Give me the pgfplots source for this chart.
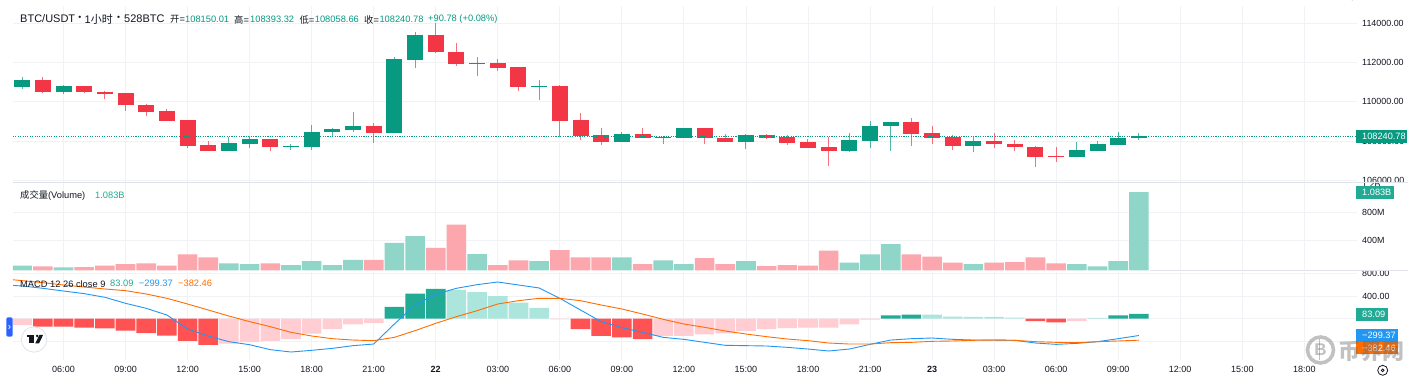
\documentclass[border=0pt]{standalone}
\usepackage{pgfplots}
\usepackage{pgfplotstable}
\usepackage{fontspec}
\pgfplotsset{compat=1.18}
\setmainfont{Liberation Sans}
\newfontfamily\cjk{Noto Sans CJK SC}
\definecolor{upc}{HTML}{089981}
\definecolor{dnc}{HTML}{F23645}
\definecolor{gridc}{HTML}{F0F2F6}
\definecolor{sepc}{HTML}{E0E3EB}
\definecolor{txtc}{HTML}{131722}
\definecolor{volg}{HTML}{8FD5C8}
\definecolor{volr}{HTML}{FCA6AD}
\definecolor{hdr}{HTML}{FF5252}
\definecolor{hlr}{HTML}{FFCDD2}
\definecolor{hdg}{HTML}{22AB94}
\definecolor{hlg}{HTML}{ACE5DC}
\definecolor{macdc}{HTML}{2196F3}
\definecolor{sigc}{HTML}{FF6D00}
\definecolor{tabc}{HTML}{2962FF}
% h = hours after 06:00 on the 21st
\pgfplotstableread{
h top bot hi lo
-2 111093 110753 111263 110668
0 110787 110515 110855 110413
8 107880 107506 108220 107489
9 108084 107863 108254 107642
11 107744 107693 107863 107523
12 108475 107710 108815 107557
13 108594 108441 108645 108186
14 108781 108560 109478 108475
16 112164 108407 112283 108407
17 113422 112147 113541 111705
20 111977 111943 112283 111314
23 110821 110770 111110 110090
27 108339 107948 108458 107948
29 108220 108169 108237 107846
30 108645 108169 108645 108169
33 108322 107948 108339 107608
38 108050 107506 108390 107438
39 108781 108016 109002 107642
40 108951 108747 108985 107489
44 108016 107761 108220 107438
49 107540 107183 107948 107183
50 107829 107506 107999 107489
51 108135 107812 108475 107812
52 108240 108150 108393 108058
}\upcandles
\pgfplotstableread{
h top bot hi lo
-1 111093 110515 111246 110464
1 110787 110481 110821 110464
2 110515 110413 110532 110158
3 110430 109835 110464 109546
4 109852 109495 109903 109274
5 109512 109036 109631 109019
6 109053 107761 109070 107642
7 107778 107506 107999 107489
10 108084 107693 108084 107489
15 108781 108407 108900 107897
18 113422 112521 114034 112470
19 112521 111943 112980 111824
21 111977 111739 112198 111552
22 111773 110753 111773 110566
24 110821 109036 110838 108220
25 109053 108254 109410 108050
26 108288 107948 108645 107812
28 108339 108169 108662 108152
31 108645 108135 108645 107846
32 108169 107948 108339 107948
34 108322 108169 108356 108101
35 108203 107897 108288 107795
36 107948 107642 108101 107642
37 107676 107506 108220 106724
41 108951 108356 109172 107744
42 108390 108169 108781 107846
43 108203 107761 108322 107540
45 108016 107829 108390 107659
46 107863 107676 108050 107489
47 107710 107183 107744 106673
48 107234 107200 107693 106911
}\dncandles
\def\T#1#2#3{\node[anchor=west,inner sep=0pt,text=txtc] at (#1pt,-#2pt) {#3};}
\def\Tag#1#2#3#4#5{\fill[#5] (1356pt,-#1pt) rectangle (#2pt,-#3pt);
  \node[anchor=west,inner sep=0pt,text=white,font=\fontsize{9.2}{10}\selectfont] at (1362pt,{-(#1+#3)/2*1pt}) {#4};}
\pgfplotsset{
  pane/.style={
    scale only axis, width=1343.6pt,
    xmin=-2.442, xmax=62.53,
    xtick={0,3,...,60},
    axis line style={draw=none},
    major tick length=0pt,
    grid=major,
    grid style={color=gridc,line width=0.9pt},
    yticklabel pos=right,
    yticklabel style={anchor=west,inner sep=0pt,text=txtc,font=\fontsize{8.9}{10}\selectfont,xshift=5.4pt},
    clip=true,
  },
}
\begin{document}
\begin{tikzpicture}
\path[use as bounding box] (0pt,0pt) rectangle (1417pt,-379pt);
\fill[white] (0pt,0pt) rectangle (1417pt,-379pt);
% --- price pane
\begin{axis}[pane, at={(13pt,-182.5pt)}, anchor=south west, height=176.5pt,
  ymin=105882, ymax=114884,
  xticklabels={},
  ytick={106000,108000,110000,112000,114000},
  yticklabels={,108000.00,110000.00,112000.00,114000.00}]
\addplot[draw=none,mark=none,forget plot,error bars/.cd,y dir=minus,y explicit,error mark=none,
  error bar style={color=upc,opacity=.7,line width=1pt}]
  table[x=h,y=hi,y error minus expr=\thisrow{hi}-\thisrow{lo}] {\upcandles};
\addplot[draw=none,mark=none,forget plot,error bars/.cd,y dir=minus,y explicit,error mark=none,
  error bar style={color=dnc,opacity=.7,line width=1pt}]
  table[x=h,y=hi,y error minus expr=\thisrow{hi}-\thisrow{lo}] {\dncandles};
\addplot[draw=none,mark=none,forget plot,error bars/.cd,y dir=minus,y explicit,error mark=none,
  error bar style={color=upc,line width=16pt}]
  table[x=h,y=top,y error minus expr=\thisrow{top}-\thisrow{bot}] {\upcandles};
\addplot[draw=none,mark=none,forget plot,error bars/.cd,y dir=minus,y explicit,error mark=none,
  error bar style={color=dnc,line width=16pt}]
  table[x=h,y=top,y error minus expr=\thisrow{top}-\thisrow{bot}] {\dncandles};
\addplot[color=upc,line width=.9pt,dash pattern=on 1.1pt off 1.3pt,forget plot] coordinates {(-2.442,108240.78)(62.53,108240.78)};
\end{axis}
% --- volume pane
\begin{axis}[pane, at={(13pt,-270.4pt)}, anchor=south west, height=86.9pt,
  ymin=0, ymax=1201,
  xticklabels={},
  ytick={415,802},
  yticklabels={400M,800M},
  ybar, bar width=19.6pt, bar shift=0pt]
\addplot[draw=none,fill=volg] coordinates {(-2,65)(0,41)(8,97)(9,88)(11,74)(12,129)(13,74)(14,147)(16,382)(17,475)(20,226)(23,129)(27,180)(29,138)(30,88)(33,129)(38,106)(39,221)(40,364)(44,88)(49,88)(50,55)(51,129)(52,1083)};
\addplot[draw=none,fill=volr] coordinates {(-1,55)(1,46)(2,65)(3,88)(4,97)(5,65)(6,221)(7,180)(10,97)(15,147)(18,313)(19,631)(21,74)(22,138)(24,281)(25,180)(26,180)(28,88)(31,170)(32,88)(34,60)(35,74)(36,65)(37,272)(41,221)(42,189)(43,106)(45,106)(46,115)(47,180)(48,97)};
\end{axis}
% --- MACD pane
\begin{axis}[pane, at={(13pt,-360pt)}, anchor=south west, height=88pt,
  ymin=-735, ymax=830,
  xticklabels={06:00,09:00,12:00,15:00,18:00,21:00,\textbf{22},03:00,06:00,09:00,12:00,15:00,18:00,21:00,\textbf{23},03:00,06:00,09:00,12:00,15:00,18:00},
  xticklabel style={text=txtc,font=\fontsize{9}{10}\selectfont,inner sep=0pt,yshift=-6.5pt},
  ytick={-400,0,400,800},
  yticklabels={,,400.00,},
  ]
\addplot[ybar,bar width=19.6pt,bar shift=0pt,draw=none,fill=hdr] coordinates {(-1,-142)(0,-142)(1,-160)(2,-172)(3,-213)(4,-255)(5,-302)(6,-397)(7,-468)(25,-184)(26,-308)(27,-332)(28,-362)(47,-42)(48,-65)};
\addplot[ybar,bar width=19.6pt,bar shift=0pt,draw=none,fill=hlr] coordinates {(-2,-113)(8,-445)(9,-415)(10,-397)(11,-362)(12,-267)(13,-184)(14,-101)(15,-77)(24,-12)(29,-308)(30,-308)(31,-279)(32,-261)(33,-219)(34,-184)(35,-166)(36,-160)(37,-160)(38,-101)(39,-18)(49,-42)};
\addplot[ybar,bar width=19.6pt,bar shift=0pt,draw=none,fill=hdg] coordinates {(16,208)(17,445)(18,528)(40,59)(41,71)(51,59)(52,83.09)};
\addplot[ybar,bar width=19.6pt,bar shift=0pt,draw=none,fill=hlg] coordinates {(19,510)(20,474)(21,403)(22,285)(23,190)(42,71)(43,36)(44,30)(45,30)(46,18)(50,12)};
\addplot[macdc,line width=.9pt,mark=none] coordinates {(-3,605)(-2,581)(-1,540)(0,492)(1,445)(2,380)(3,273)(4,184)(5,65)(6,-184)(7,-308)(8,-409)(9,-463)(10,-551)(11,-593)(12,-563)(13,-528)(14,-480)(15,-451)(16,-95)(17,243)(18,433)(19,540)(20,605)(21,652)(22,599)(23,546)(24,362)(25,154)(26,-53)(27,-160)(28,-243)(29,-332)(30,-368)(31,-421)(32,-474)(33,-480)(34,-486)(35,-510)(36,-540)(37,-575)(38,-540)(39,-457)(40,-380)(41,-356)(42,-344)(43,-368)(44,-380)(45,-380)(46,-385)(47,-433)(48,-457)(49,-439)(50,-409)(51,-356)(52,-299.37)};
\addplot[sigc,line width=.9pt,mark=none] coordinates {(-3,712)(-2,676)(-1,640)(0,599)(1,563)(2,528)(3,498)(4,439)(5,362)(6,261)(7,154)(8,47)(9,-53)(10,-142)(11,-243)(12,-308)(13,-356)(14,-380)(15,-391)(16,-332)(17,-213)(18,-83)(19,36)(20,142)(21,261)(22,320)(23,362)(24,362)(25,320)(26,243)(27,172)(28,83)(29,-12)(30,-95)(31,-154)(32,-219)(33,-273)(34,-320)(35,-362)(36,-391)(37,-433)(38,-451)(39,-451)(40,-427)(41,-421)(42,-403)(43,-397)(44,-385)(45,-380)(46,-385)(47,-409)(48,-421)(49,-427)(50,-409)(51,-397)(52,-382.46)};
\end{axis}
% clipped scale labels
\begin{scope}
\clip (1357pt,-170pt) rectangle (1417pt,-182pt);
\node[anchor=west,inner sep=0pt,text=txtc,font=\fontsize{8.9}{10}\selectfont] at (1362pt,-180pt) {106000.00};
\end{scope}
\begin{scope}
\clip (1357pt,-183pt) rectangle (1417pt,-190pt);
\node[anchor=west,inner sep=0pt,text=txtc,font=\fontsize{8.9}{10}\selectfont] at (1362pt,-184pt) {1.2B};
\end{scope}
\begin{scope}
\clip (1357pt,-271pt) rectangle (1417pt,-285pt);
\node[anchor=west,inner sep=0pt,text=txtc,font=\fontsize{8.9}{10}\selectfont] at (1362pt,-273pt) {800.00};
\end{scope}
% separators
\draw[sepc,line width=1.2pt] (13pt,-182.5pt) -- (1408pt,-182.5pt);
\draw[sepc,line width=1.2pt] (1150pt,-270.5pt) -- (1408pt,-270.5pt);
% header
\begingroup
\fontsize{11}{12}\selectfont
\T{20}{19}{BTC/USDT}
\T{74.2}{19}{{\cjk ·}}
\T{84.5}{19}{1{\cjk 小时}}
\T{113}{19}{{\cjk ·}}
\T{124}{19}{528BTC}
\endgroup
\begingroup
\fontsize{9.3}{10}\selectfont
\T{170}{19.5}{{\cjk 开}=}\node[anchor=west,inner sep=0pt,text=upc] at (185pt,-19.5pt) {108150.01};
\T{234}{19.5}{{\cjk 高}=}\node[anchor=west,inner sep=0pt,text=upc] at (250pt,-19.5pt) {108393.32};
\T{299.3}{19.5}{{\cjk 低}=}\node[anchor=west,inner sep=0pt,text=upc] at (314.7pt,-19.5pt) {108058.66};
\T{364}{19.5}{{\cjk 收}=}\node[anchor=west,inner sep=0pt,text=upc] at (379.3pt,-19.5pt) {108240.78};
\node[anchor=west,inner sep=0pt,text=upc] at (428pt,-19.5pt) {+90.78 (+0.08\%)};
\T{20}{195.7}{{\cjk 成交量}(Volume)}
\node[anchor=west,inner sep=0pt,text=hdg] at (95pt,-195.7pt) {1.083B};
\T{20}{283.7}{MACD 12 26 close 9}
\node[anchor=west,inner sep=0pt,text=hdg] at (110pt,-283.7pt) {83.09};
\node[anchor=west,inner sep=0pt,text=macdc] at (138.7pt,-283.7pt) {−299.37};
\node[anchor=west,inner sep=0pt,text=sigc] at (178pt,-283.7pt) {−382.46};
\endgroup
% scale tags
\Tag{130}{1407.3}{142.7}{108240.78}{upc}
\Tag{186}{1393.7}{198.7}{1.083B}{hdg}
\Tag{308.3}{1388}{321}{83.09}{hdg}
\Tag{329}{1398}{341.7}{−299.37}{macdc}
\Tag{341.7}{1398}{354.3}{−382.46}{sigc}
% left tab
\fill[tabc,rounded corners=2pt] (6.3pt,-317.3pt) rectangle (12.7pt,-336.7pt);
\draw[white,line width=.7pt] (8.6pt,-325pt) -- (10.2pt,-327pt) -- (8.6pt,-329pt);
% TV logo
\draw[sepc,fill=white,line width=.8pt] (34pt,-339.5pt) circle (12.7pt);
\fill[txtc] (26.5pt,-334.8pt) rectangle (33.8pt,-337.3pt);
\fill[txtc] (29.2pt,-337.3pt) rectangle (33.8pt,-343.4pt);
\fill[txtc] (37.2pt,-336pt) circle (1.45pt);
\fill[txtc] (39.5pt,-334.8pt) -- (43.2pt,-334.8pt) -- (39pt,-343.4pt) -- (35.2pt,-343.4pt) -- cycle;
% gear
\draw[txtc,line width=.8pt] (1382.7pt,-370.3pt) circle (5pt);
\draw[txtc,line width=.8pt] (1382.7pt,-370.3pt) circle (1.4pt);
% watermark
\begin{scope}[opacity=.42]
\draw[gray!85!black,line width=3.6pt] (1320.5pt,-350pt) circle (13pt);
\node[text=gray!85!black,font=\fontsize{17}{18}\selectfont\bfseries,inner sep=0pt] at (1320.5pt,-350pt) {B};
\fill[gray!85!black] (1318.5pt,-339.5pt) rectangle (1320pt,-360.5pt);
\node[anchor=west,inner sep=0pt,text=gray!85!black,font=\cjk\fontsize{22}{23}\selectfont\bfseries] at (1338pt,-351pt) {币界网};
\end{scope}
\end{tikzpicture}
\end{document}
